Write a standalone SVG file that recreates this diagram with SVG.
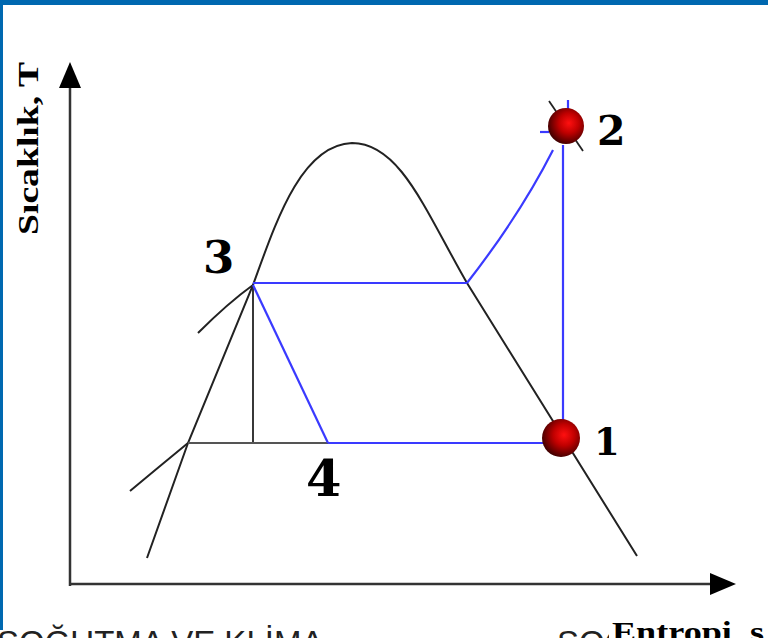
<svg xmlns="http://www.w3.org/2000/svg" width="768" height="638" viewBox="0 0 768 638">
<defs>
<radialGradient id="ball" cx="0.58" cy="0.42" r="0.62">
<stop offset="0" stop-color="#ff1010"/>
<stop offset="0.45" stop-color="#c00000"/>
<stop offset="1" stop-color="#3a0000"/>
</radialGradient>
<style>
.axis{stroke:#333;stroke-width:2.5;fill:none}
.dome{stroke:#222;stroke-width:2;fill:none}
.blue{stroke:#3a3aff;stroke-width:2.2;fill:none}
.blk{stroke:#222;stroke-width:1.8;fill:none}
.num{font-family:"DejaVu Serif",serif;font-weight:bold;fill:#000}
.lab{font-family:"Liberation Serif","Times New Roman",serif;font-weight:bold;fill:#000}
.hdr{font-family:"Liberation Sans",Arial,sans-serif;fill:#222}
</style>
</defs>
<rect width="768" height="638" fill="#fff"/>
<rect x="0" y="0" width="768" height="5" fill="#0068b0"/>
<rect x="0" y="0" width="3" height="630" fill="#0068b0"/>

<g id="axes">
<line class="axis" x1="70" y1="586" x2="70" y2="86"/>
<polygon points="70,62 59,88 81,88" fill="#000"/>
<line class="axis" x1="69" y1="584" x2="712" y2="584"/>
<polygon points="736,584 710,573 710,595" fill="#000"/>
</g>

<g id="dome">
<path class="dome" d="M147,558 L188,443 L253,285 C275,225 300,145 352,143 C400,143 425,210 467,283 L637,556"/>
<path class="dome" d="M130,491 Q160,466 188,443"/>
<path class="dome" d="M198,333 Q228,303 253,285"/>
</g>

<g id="connectors">
<line class="blk" x1="253" y1="285" x2="253" y2="443"/>
<line x1="188" y1="443" x2="328" y2="443" stroke="#555" stroke-width="2"/>
<line class="blue" x1="253" y1="285" x2="328" y2="443"/>
<line class="blue" x1="253" y1="283" x2="467" y2="283"/>
<line class="blue" x1="328" y1="443" x2="560" y2="443"/>
<path class="blue" d="M467,283 Q520,215 553,150"/>
<line class="blue" x1="563" y1="145" x2="563" y2="437"/>
<line class="blue" x1="568" y1="100" x2="568" y2="112"/>
<line class="blue" x1="540" y1="132" x2="549" y2="132"/>
<line class="blk" x1="549" y1="101" x2="583" y2="151"/>
</g>

<g id="node1">
<circle cx="561" cy="438" r="19" fill="url(#ball)"/>
<text class="num" x="594" y="455" font-size="37">1</text>
</g>
<g id="node2">
<circle cx="566" cy="126" r="18" fill="url(#ball)"/>
<text class="num" x="597" y="145" font-size="41">2</text>
</g>
<g id="node3">
<text class="num" x="203" y="273" font-size="45">3</text>
</g>
<g id="node4">
<text class="num" x="306" y="496" font-size="51">4</text>
</g>

<text class="lab" transform="translate(38,235) rotate(-90)" font-size="30" textLength="173" lengthAdjust="spacingAndGlyphs">Sıcaklık, T</text>

<text class="hdr" x="-3" y="654" font-size="33">SOĞUTMA VE KLİMA</text>
<text class="hdr" x="557" y="654" font-size="33">SOĞ</text>
<rect x="609" y="614" width="159" height="24" fill="#fff"/>
<text class="lab" x="612" y="642" font-size="30" textLength="152" lengthAdjust="spacingAndGlyphs">Entropi, s</text>
</svg>
